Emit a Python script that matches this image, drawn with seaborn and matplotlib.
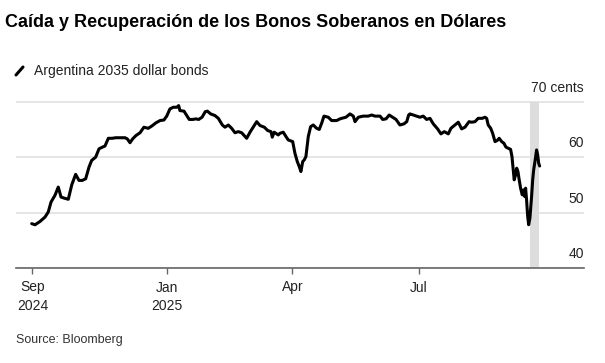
import matplotlib
matplotlib.use("Agg")
import matplotlib.pyplot as plt
import matplotlib.transforms as mtransforms
from matplotlib.lines import Line2D
import numpy as np
import pandas as pd
import seaborn as sns

# days counted from 2025-01-01
days = [-97.5, -95.1, -91.5, -87.9, -85.6, -83.6, -80.8, -78.4, -76.4, -74.1,
        -71.2, -68.7, -65.9, -63.5, -61.1, -58.7, -56.3, -54.4, -51.5, -49.1,
        -46.7, -44.8, -42.4, -39.6, -37.1, -34.0, -30.4, -28.8, -26.8, -24.9,
        -22.5, -19.6, -16.8, -13.7, -11.2, -8.1, -5.2, -2.4, -0.4, 1.9,
        4.3, 6.8, 8.2, 9.1, 12.0, 14.0, 15.8, 18.3, 20.6, 22.6,
        25.0, 27.3, 28.8, 31.2, 34.3, 36.7, 39.6, 41.5, 43.9, 46.3,
        48.7, 51.1, 53.5, 57.1, 59.5, 61.8, 64.3, 66.7, 69.8, 72.2,
        74.6, 75.5, 76.9, 79.8, 81.0, 83.4, 85.4, 87.0, 90.2, 91.8,
        93.5, 94.9, 96.1, 97.4, 98.5, 99.7, 101.4, 103.1, 105.0, 107.4,
        109.3, 111.0, 112.7, 115.8, 118.2, 121.8, 124.2, 125.4, 128.5, 131.4,
        133.8, 135.0, 137.4, 140.9, 144.5, 147.0, 149.4, 153.0, 154.9, 157.3,
        159.6, 162.1, 164.5, 167.3, 170.2, 172.2, 173.6, 174.5, 176.9, 179.3,
        181.7, 184.1, 186.5, 188.9, 191.3, 194.4, 196.8, 199.2, 202.1, 204.0,
        206.9, 209.3, 211.7, 214.1, 217.0, 218.9, 221.3, 223.6, 226.5, 228.5,
        229.7, 230.8, 232.6, 234.0, 235.7, 237.3, 238.7, 240.5, 242.1, 243.6,
        245.2, 246.9, 247.9, 248.8, 249.5, 250.5, 251.3, 252.2, 253.1, 254.1,
        255.3, 256.3, 257.0, 257.7, 258.4, 259.2, 259.9, 260.8, 262.0, 262.8,
        263.5, 264.6, 265.6, 266.4, 267.1, 267.8]
prices = [48.0, 47.8, 48.4, 49.2, 50.1, 51.9, 53.1, 54.6, 52.8, 52.6,
          52.4, 55.0, 56.9, 55.8, 55.8, 56.1, 58.2, 59.4, 60.0, 61.5,
          61.8, 62.0, 63.4, 63.4, 63.5, 63.5, 63.5, 63.3, 62.6, 63.3,
          63.9, 64.4, 65.4, 65.2, 65.6, 66.2, 66.6, 66.7, 67.4, 68.7,
          69.0, 69.0, 69.3, 68.4, 68.3, 67.5, 66.8, 66.8, 66.9, 66.8,
          67.2, 68.2, 68.3, 67.8, 67.5, 67.0, 65.8, 65.4, 65.8, 65.2,
          64.4, 64.6, 64.4, 63.4, 64.5, 65.4, 66.4, 65.7, 65.4, 64.8,
          64.6, 63.6, 64.5, 64.0, 64.3, 64.5, 63.7, 63.1, 62.8, 60.7,
          59.2, 58.3, 57.4, 59.2, 59.5, 60.1, 63.7, 65.5, 65.8, 65.2,
          65.0, 66.1, 67.4, 67.2, 66.6, 66.6, 66.9, 67.0, 67.2, 67.8,
          67.4, 66.4, 67.2, 67.4, 67.4, 67.6, 67.4, 67.4, 66.8, 66.9,
          67.6, 67.2, 66.8, 65.8, 66.0, 66.4, 67.6, 67.8, 67.6, 67.4,
          67.2, 67.4, 66.8, 67.0, 66.0, 65.1, 64.2, 64.6, 64.2, 65.2,
          65.8, 66.3, 65.1, 65.4, 66.4, 66.3, 66.4, 67.0, 67.0, 67.2,
          67.0, 65.8, 65.2, 64.3, 62.8, 63.0, 63.4, 62.8, 62.5, 61.8,
          61.6, 61.4, 60.1, 57.7, 55.9, 56.8, 58.0, 57.4, 55.9, 54.4,
          53.2, 54.1, 52.9, 54.4, 52.3, 49.3, 47.8, 49.0, 52.9, 55.9,
          57.7, 59.5, 61.3, 60.4, 58.9, 58.4]

tick_dates = ["2024-09-26", "2025-01-01", "2025-04-01", "2025-07-01"]
tick_labels = ["Sep\n2024", "Jan\n2025", "Apr", "Jul"]
y_ticks = [40, 50, 60, 70]
y_labels = ["40", "50", "60", "70 cents"]
shade_days = [260.8, 267.5]

base = pd.Timestamp("2025-01-01")
df = pd.DataFrame({"date": base + pd.to_timedelta(days, unit="D"), "price": prices})

sns.set_style("white")
plt.rcParams["font.family"] = ["Liberation Sans", "DejaVu Sans"]

fig = plt.figure(figsize=(6.05, 3.63), dpi=100)
ax = fig.add_axes([16 / 605, 1 - 268 / 363, (584 - 16) / 605, (268 - 100.6) / 363])

ax.axvspan(base + pd.Timedelta(days=shade_days[0]), base + pd.Timedelta(days=shade_days[1]),
           ymin=0, ymax=30 / 30.2, color="#dddddd", lw=0, zorder=1)
sns.lineplot(data=df, x="date", y="price", ax=ax, color="black", lw=2.2,
             sort=False, estimator=None, zorder=3)

ax.set_xlim(base - pd.Timedelta(days=108.8), base + pd.Timedelta(days=299.7))
ax.set_ylim(40, 70.2)
ax.set_xlabel("")
ax.set_ylabel("")

ax.set_xticks(pd.to_datetime(tick_dates))
ax.set_xticklabels(tick_labels, fontsize=10, color="#222222", linespacing=1.45)
ax.tick_params(axis="x", length=4, width=1, color="#666666", pad=5, bottom=True)

ax.set_yticks(y_ticks)
ax.set_yticklabels(y_labels, fontsize=10, color="#222222")
ax.yaxis.tick_right()
ax.tick_params(axis="y", length=0, pad=0)
shift = mtransforms.ScaledTranslation(0, 5 / 72, fig.dpi_scale_trans)
for lab in ax.get_yticklabels():
    lab.set_horizontalalignment("right")
    lab.set_verticalalignment("bottom")
    lab.set_transform(lab.get_transform() + shift)

ax.grid(axis="y", color="#e0e0e0", lw=1.2)
ax.grid(axis="x", visible=False)
for side in ["top", "left", "right"]:
    ax.spines[side].set_visible(False)
ax.spines["bottom"].set_color("#666666")
ax.spines["bottom"].set_linewidth(1.2)

fig.text(5 / 605, 1 - 27 / 363, "Caída y Recuperación de los Bonos Soberanos en Dólares",
         fontsize=13, fontweight="bold", color="black", va="baseline")
fig.add_artist(Line2D([16 / 605, 23 / 605], [1 - 75 / 363, 1 - 67 / 363],
                      color="black", lw=2.2, transform=fig.transFigure))
fig.text(34 / 605, 1 - 75 / 363, "Argentina 2035 dollar bonds", fontsize=10,
         color="#222222", va="baseline")
fig.text(16 / 605, 1 - 343 / 363, "Source: Bloomberg", fontsize=9,
         color="#333333", va="baseline")

fig.savefig("out.png", dpi=100)
